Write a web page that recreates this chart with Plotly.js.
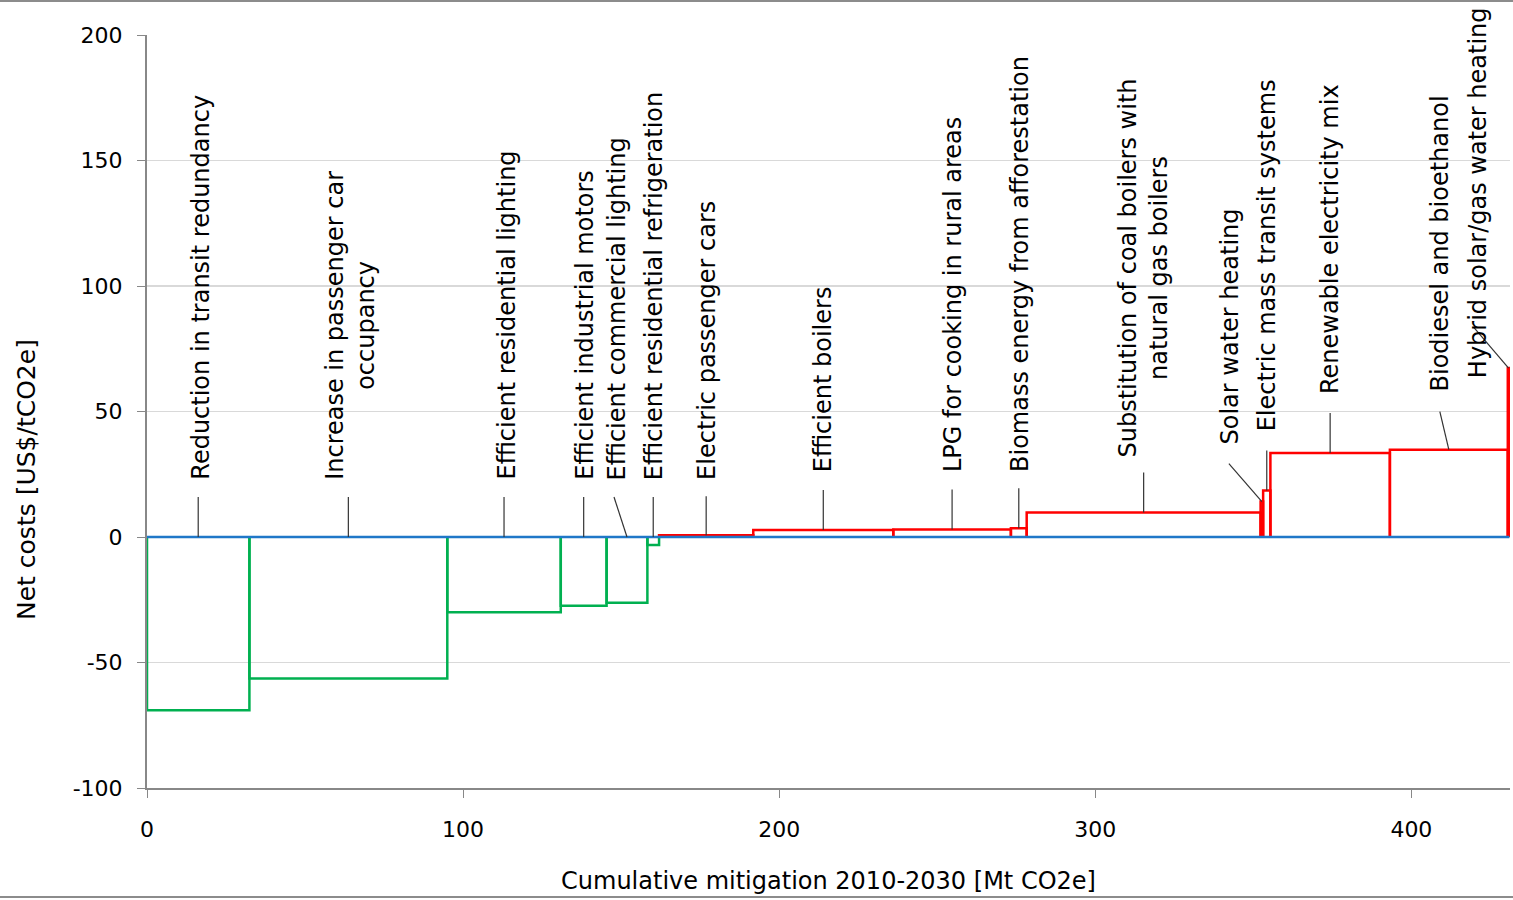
<!DOCTYPE html>
<html>
<head>
<meta charset="utf-8">
<script src="https://cdn.plot.ly/plotly-3.0.1.min.js"></script>
<style>
  html, body { margin: 0; padding: 0; background: #fff; }
  #chart { width: 1513px; height: 900px; }
</style>
</head>
<body>
<div id="chart"></div>
<script>
// ---- Data ----
const measures = [
  "Reduction in transit redundancy",
  "Increase in passenger car<br>occupancy",
  "Efficient residential lighting",
  "Efficient industrial motors",
  "Efficient commercial lighting",
  "Efficient residential refrigeration",
  "Electric passenger cars",
  "Efficient boilers",
  "LPG for cooking in rural areas",
  "Biomass energy from afforestation",
  "Substitution of coal boilers with<br>natural gas boilers",
  "Solar water heating",
  "Electric mass transit systems",
  "Renewable electricity mix",
  "Biodiesel and bioethanol",
  "Hybrid solar/gas water heating"
];
// abatement potential of each measure [Mt CO2e]
const mitigation = [32.4, 62.6, 35.9, 14.5, 12.9, 3.7, 29.8, 44.3, 37.2, 5.0, 74.0, 0.8, 2.3, 37.8, 37.3, 0.5];
// net cost of each measure [US$/tCO2e]
const netCost = [-69.0, -56.4, -30.0, -27.4, -26.2, -3.2, 0.7, 2.8, 3.0, 3.5, 9.8, 14.1, 18.5, 33.5, 34.8, 67.3];

const yTickVals = [-100, -50, 0, 50, 100, 150, 200];
const yTickText = ["-100", "-50", "0", "50", "100", "150", "200"];
const xTickVals = [0, 100, 200, 300, 400];
const xTitle = "Cumulative mitigation 2010-2030 [Mt CO2e]";
const yTitle = "Net costs [US$/tCO2e]";

// ---- Label placement (pixel offsets, styling only) ----
const labelDx  = [2, 2, 2, 1, -10, 1, 1, 0, 1, 1, 0, -32, 0, 0, -9, -31];
const labelDy  = [55, 55, 55, 55, 55, 55, 53, 56, 55, 54, 53, 55, 57, 57, 56, -12];
const lineDx   = [0, 0, 0, 0, -13, 0, 0, 0, 0, 0, 0, -33, 0, 0, -9, -35];
const lineRise = [40, 40, 40, 40, 40, 40, 39, 40, 40, 40, 40, 38, 40, 40, 38, 41];

const GREEN = "#00b050", RED = "#ff0000", BLUE = "#1f77c8";
const FONT = "DejaVu Sans, Verdana, sans-serif";

// cumulative boundaries
const starts = [], ends = [];
let acc = 0;
mitigation.forEach(w => { starts.push(acc); acc += w; ends.push(acc); });
const total = acc;

const traces = measures.map((m, i) => ({
  type: "scatter", mode: "lines",
  x: [starts[i], starts[i], ends[i], ends[i]],
  y: [0, netCost[i], netCost[i], 0],
  line: { color: netCost[i] < 0 ? GREEN : RED, width: 2.5 },
  hoverinfo: "skip", showlegend: false
}));
traces.push({
  type: "scatter", mode: "lines",
  x: [0, total], y: [0, 0],
  line: { color: BLUE, width: 2.5 },
  hoverinfo: "skip", showlegend: false
});

const M = { l: 147, r: 3, t: 35, b: 112 };
const W = 1513, H = 900;
const pw = W - M.l - M.r, ph = H - M.t - M.b;
const pxToPaperY = p => (H - M.b - p) / ph;
const pxToPaperX = p => (p - M.l) / pw;

const annotations = measures.map((m, i) => ({
  text: m, xref: "x", yref: "y",
  x: (starts[i] + ends[i]) / 2,
  y: Math.max(netCost[i], 0),
  xshift: labelDx[i], yshift: labelDy[i],
  textangle: -90, xanchor: "center", yanchor: "bottom",
  align: "center", showarrow: false,
  font: { family: FONT, size: 24, color: "#000" }
}));
// y-axis title (placed lower than plot centre, as in the reference)
annotations.push({
  text: yTitle, xref: "paper", yref: "paper",
  x: pxToPaperX(27), y: pxToPaperY(480),
  xanchor: "center", yanchor: "middle", textangle: -90, showarrow: false,
  font: { family: FONT, size: 25, color: "#000" }
});

const shapes = measures.map((m, i) => ({
  type: "line", xref: "x", yref: "y",
  xsizemode: "pixel", ysizemode: "pixel",
  xanchor: (starts[i] + ends[i]) / 2,
  yanchor: Math.max(netCost[i], 0),
  x0: 0, y0: 0, x1: lineDx[i], y1: lineRise[i],
  line: { color: "#333", width: 1.2 }
}));

// outer frame lines (top and bottom of the picture)
shapes.push({ type: "line", xref: "paper", yref: "paper",
  x0: pxToPaperX(0), x1: pxToPaperX(W), y0: pxToPaperY(1), y1: pxToPaperY(1),
  line: { color: "#8c8c8c", width: 2 } });
shapes.push({ type: "line", xref: "paper", yref: "paper",
  x0: pxToPaperX(0), x1: pxToPaperX(W), y0: pxToPaperY(897), y1: pxToPaperY(897),
  line: { color: "#8c8c8c", width: 2 } });

const layout = {
  width: W, height: H,
  margin: M,
  paper_bgcolor: "#fff", plot_bgcolor: "#fff",
  showlegend: false,
  font: { family: FONT, color: "#000" },
  xaxis: {
    range: [0, 431.2],
    tickvals: xTickVals,
    ticks: "outside", ticklen: 8, tickcolor: "#888", tickwidth: 1,
    ticklabelstandoff: 13,
    showgrid: false, zeroline: false,
    showline: true, linecolor: "#888", linewidth: 2,
    tickfont: { family: FONT, size: 22, color: "#000" },
    title: { text: xTitle, standoff: 31,
             font: { family: FONT, size: 24, color: "#000" } }
  },
  yaxis: {
    range: [-100, 200],
    tickvals: yTickVals, ticktext: yTickText,
    ticks: "outside", ticklen: 8, tickcolor: "#888", tickwidth: 1,
    ticklabelstandoff: 10,
    showgrid: true, gridcolor: "#d9d9d9", gridwidth: 1.5,
    zeroline: false,
    showline: true, linecolor: "#888", linewidth: 2,
    tickfont: { family: FONT, size: 22, color: "#000" }
  },
  annotations: annotations,
  shapes: shapes
};

Plotly.newPlot("chart", traces, layout, { displayModeBar: false, staticPlot: true });
</script>
</body>
</html>
